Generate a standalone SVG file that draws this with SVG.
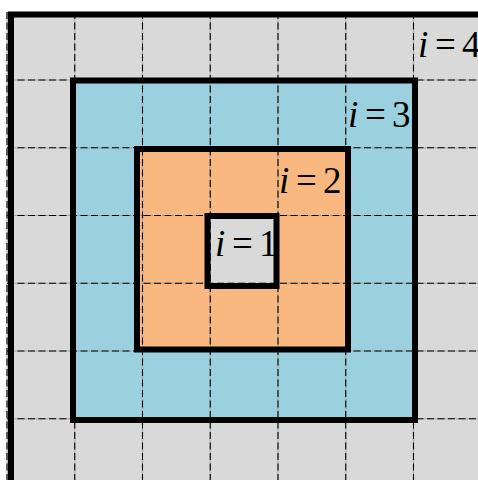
<svg xmlns="http://www.w3.org/2000/svg" width="478" height="480" viewBox="0 0 478 480">
<style>
.box{stroke:#000;stroke-width:6;}
.g1{fill:#d9d9d9;}
.g2{fill:#9bd1de;}
.g3{fill:#f9b880;}
.gl{stroke:#9a9a9a;stroke-width:0.8;fill:none;}
.gd{stroke:#000;stroke-width:1.1;stroke-dasharray:7 3.5;fill:none;}
.lab{font-family:"Liberation Serif","Times New Roman",serif;font-size:37px;fill:#000;}
.it{font-style:italic;}
</style>
<rect x="0" y="0" width="478" height="480" fill="#ffffff"/>
<g id="region4">
<rect class="g1" x="7" y="12" width="480" height="480"/>
</g>
<g id="region3">
<rect class="g2" x="73" y="80.5" width="342" height="339.5"/>
</g>
<g id="region2">
<rect class="g3" x="137" y="149" width="211" height="200.5"/>
</g>
<g id="region1">
<rect class="g1" x="207.5" y="216" width="69" height="70"/>
</g>
<g id="grid">
<path class="gl" d="M7 12V480M74.75 12V480M142.5 12V480M210.25 12V480M278 12V480M345.75 12V480M413.5 12V480M7 80H478M7 147.8H478M7 215.5H478M7 283.3H478M7 351H478M7 418.8H478"/>
<path class="gd" d="M7 12V480M74.75 12V480M142.5 12V480M210.25 12V480M278 12V480M345.75 12V480M413.5 12V480M7 80H478M7 147.8H478M7 215.5H478M7 283.3H478M7 351H478M7 418.8H478"/>
</g>
<g id="outlines" fill="none">
<rect class="box" x="11" y="14.5" width="480" height="480"/>
<rect class="box" x="73" y="80.5" width="342" height="339.5"/>
<rect class="box" x="137" y="149" width="211" height="200.5"/>
<rect class="box" x="207.5" y="216" width="69" height="70"/>
</g>
<g id="labels" class="lab">
<text y="57"><tspan class="it" x="418">i</tspan><tspan x="435">=</tspan><tspan x="462">4</tspan></text>
<text y="127"><tspan class="it" x="348">i</tspan><tspan x="365">=</tspan><tspan x="392">3</tspan></text>
<text y="193"><tspan class="it" x="279">i</tspan><tspan x="296">=</tspan><tspan x="323">2</tspan></text>
<text y="256"><tspan class="it" x="215">i</tspan><tspan x="232">=</tspan><tspan x="259">1</tspan></text>
</g>
</svg>
